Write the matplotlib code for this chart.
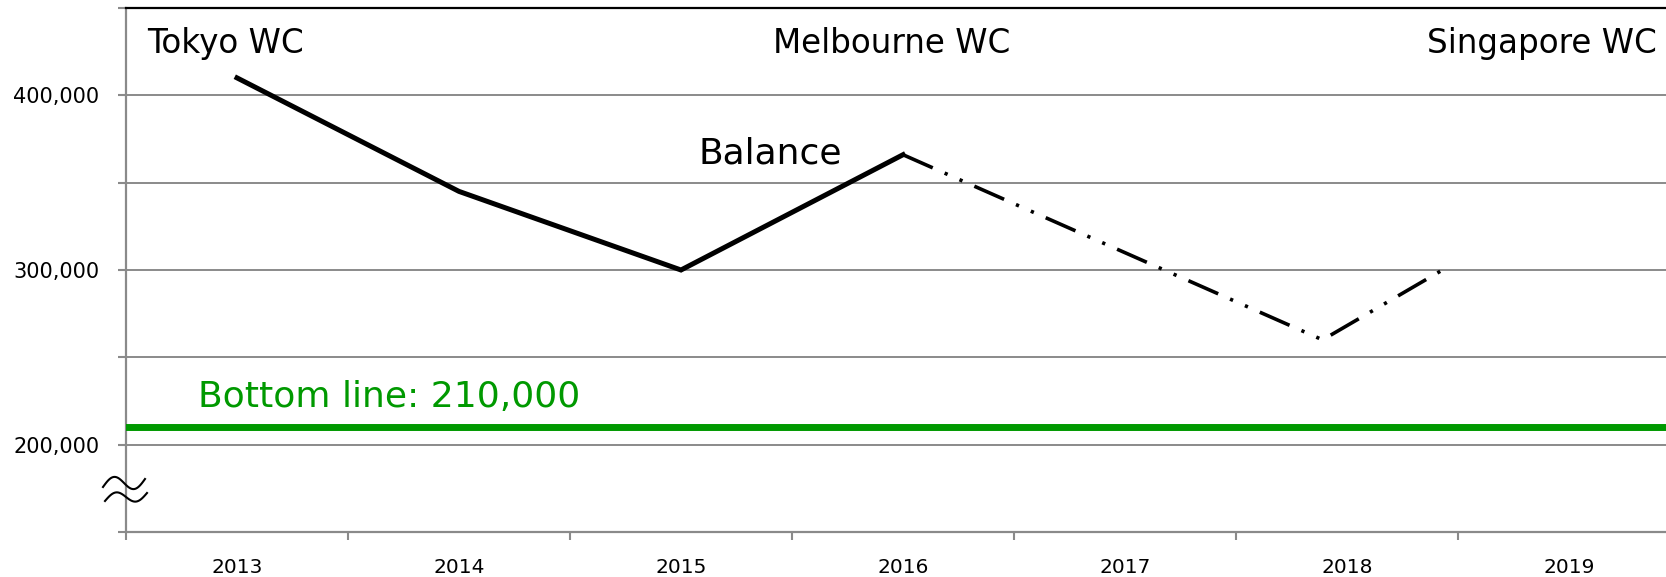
import numpy as np
import matplotlib
matplotlib.use("Agg")
import matplotlib.pyplot as plt
from matplotlib.ticker import MultipleLocator, FixedLocator, FuncFormatter
from matplotlib.lines import Line2D

# data
years = ["2013", "2014", "2015", "2016", "2017", "2018", "2019"]
balance = [410000, 345000, 300000, 366000]          # 2013-2016, actual
proj_x = [3.0, 4.89, 5.43]                           # projection positions (category units)
proj_y = [366000, 260000, 300000]
bottom_line = 210000
events = ["Tokyo WC", "Melbourne WC", "Singapore WC"]
event_x = [-0.05, 2.95, 5.88]

W, H = 1666, 577
fig = plt.figure(figsize=(W / 100, H / 100), dpi=100)
plt.rcParams['font.family'] = ['DejaVu Sans']

# axes run past the right edge of the picture (cropped like the original)
ax = fig.add_axes([126 / W, 45 / H, (1680 - 126) / W, 524 / H])
ax.set_xlim(-0.5, len(years) - 0.5)
ax.set_ylim(150000, 450000)

grey = "#8a8a8a"
ax.yaxis.set_major_locator(MultipleLocator(50000))
ax.yaxis.set_major_formatter(FuncFormatter(
    lambda v, p: f"{int(v):,}" if v % 100000 == 0 and 150000 < v < 450000 else ""))
ax.grid(axis="y", color=grey, linewidth=1.4)
ax.set_axisbelow(True)

ax.xaxis.set_major_locator(FixedLocator(np.arange(-0.5, len(years), 1.0)))
ax.xaxis.set_major_formatter(FuncFormatter(lambda v, p: ""))
ax.xaxis.set_minor_locator(FixedLocator(np.arange(len(years))))
ax.set_xticklabels(years, minor=True)

ax.tick_params(axis="y", which="major", direction="out", length=6, width=1.5,
               color=grey, labelsize=15, pad=13)
ax.tick_params(axis="x", which="major", direction="out", length=6, width=1.5, color=grey)
ax.tick_params(axis="x", which="minor", length=0, labelsize=14.5, pad=19)

for s in ["left", "bottom"]:
    ax.spines[s].set_color(grey)
    ax.spines[s].set_linewidth(1.6)
ax.spines["top"].set_color("black")
ax.spines["top"].set_linewidth(1.6)
ax.spines["right"].set_visible(False)

# lines
ax.axhline(bottom_line, color="#009900", linewidth=5, zorder=3)
ax.plot(range(len(balance)), balance, color="black", linewidth=3.6,
        solid_joinstyle="miter", zorder=4)
ax.plot(proj_x, proj_y, color="black", linewidth=2.6,
        linestyle=(0, (9, 3.6, 0.9, 3.6, 0.9, 3.6)), dash_capstyle="butt", zorder=4)

# labels
for name, x in zip(events, event_x):
    ax.text(x, 424000, name, ha="center", va="baseline", fontsize=23.5, color="black")
ax.text(2.4, 361000, "Balance", ha="center", va="baseline", fontsize=26, color="black")
ax.text(-0.176, 221600, f"Bottom line: {bottom_line:,}", ha="left", va="baseline",
        fontsize=26, color="#009900")

# axis break mark (two small waves across the y axis)
t = np.linspace(0, 1, 80)
for x0, y0, amp in [(103, 487, 8), (105, 501, 6.5)]:
    xs = x0 + 42 * t
    ys = y0 - (8 * t + amp * np.sin(2 * np.pi * t))
    fig.add_artist(Line2D(xs / W, 1 - ys / H, transform=fig.transFigure,
                          color="black", linewidth=1.5))

fig.savefig("out.png", dpi=100)
